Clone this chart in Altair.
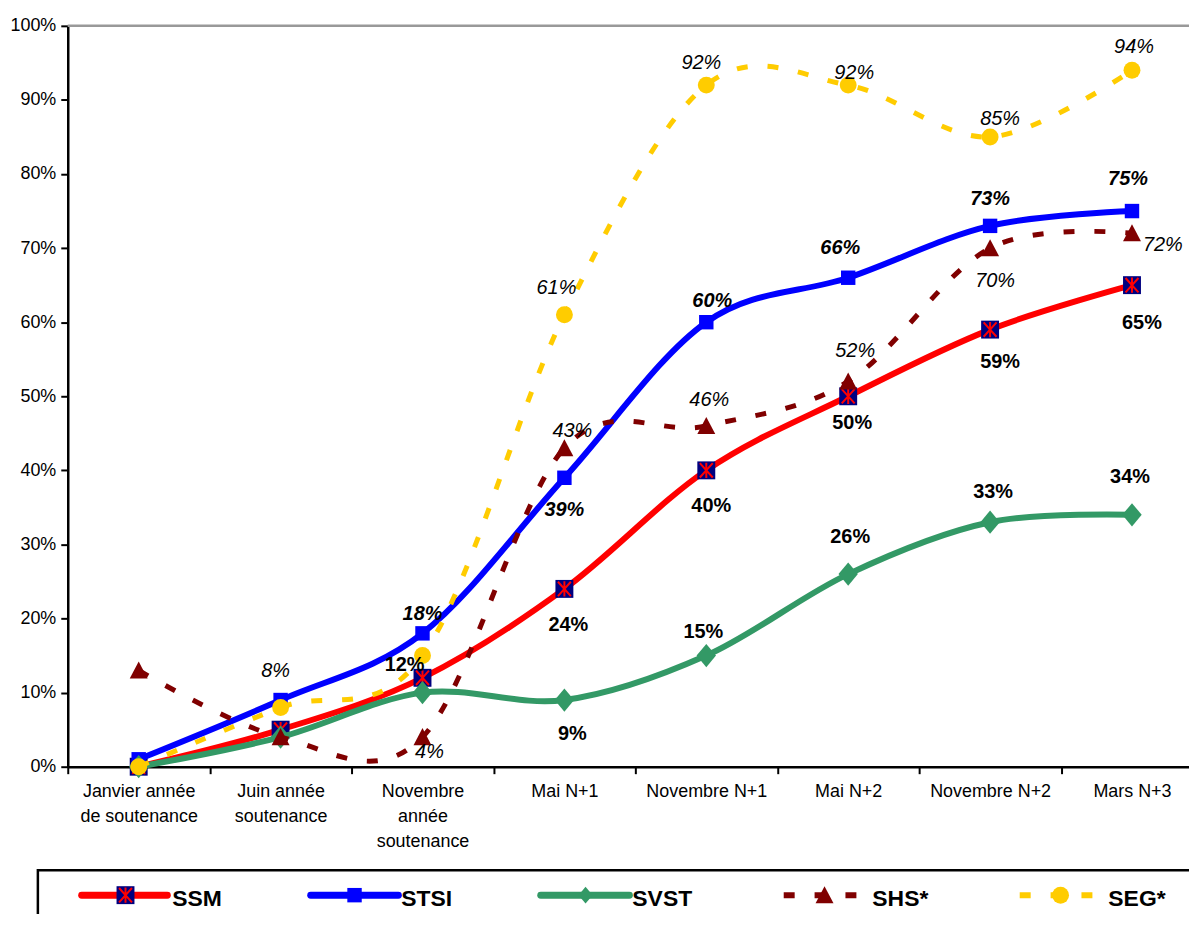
import json
import altair as alt
import pandas as pd

# ---------------- data ----------------
categories = ["Janvier année|de soutenance", "Juin année|soutenance",
              "Novembre|année|soutenance", "Mai N+1", "Novembre N+1",
              "Mai N+2", "Novembre N+2", "Mars N+3"]
series_names = ["SSM", "STSI", "SVST", "SHS*", "SEG*"]
ssm = [0, 5, 12, 24, 40, 50, 59, 65]
stsi = [1, 9, 18, 39, 60, 66, 73, 75]
svst = [0, 4, 10, 9, 15, 26, 33, 34]
shs = [13, 4, 4, 43, 46, 52, 70, 72]
seg = [0, 8, 15, 61, 92, 92, 85, 94]
y_ticks = [0, 10, 20, 30, 40, 50, 60, 70, 80, 90, 100]

values = {"SSM": ssm, "STSI": stsi, "SVST": svst, "SHS*": shs, "SEG*": seg}

# ---------------- layout / style ----------------
W, H = 1126, 744
STEP = 142.5
XMAX = W / STEP - 0.5
FONT = "Liberation Sans"

styles = {
    "SSM": dict(color="#FF0000", width=6, dash=None),
    "STSI": dict(color="#0000FF", width=6, dash=None),
    "SVST": dict(color="#339966", width=6, dash=None),
    "SHS*": dict(color="#800000", width=5, dash=[11, 20]),
    "SEG*": dict(color="#FFCC00", width=5, dash=[11, 20]),
}
ASTER = "M-0.72,-0.8L0.72,0.8M0.72,-0.8L-0.72,0.8M0,-0.85L0,0.85"
DIAMOND = "M0,-1.2L1,0L0,1.2L-1,0Z"
TRIANGLE = "M0,-1L1,0.9L-1,0.9Z"
markers = {
    "SSM": [dict(shape="square", filled=True, color="#000080", size=324),
            dict(shape=ASTER, filled=False, color="#FF0000", size=324, strokeWidth=2)],
    "STSI": [dict(shape="square", filled=True, color="#0000FF", size=210)],
    "SVST": [dict(shape=DIAMOND, filled=True, color="#339966", size=380)],
    "SHS*": [dict(shape=TRIANGLE, filled=True, color="#800000", size=324)],
    "SEG*": [dict(shape="circle", filled=True, color="#FFCC00", size=289)],
}
label_font = {
    "SSM": dict(fontWeight="bold"),
    "STSI": dict(fontWeight="bold", fontStyle="italic"),
    "SVST": dict(fontWeight="bold"),
    "SHS*": dict(fontStyle="italic"),
    "SEG*": dict(fontStyle="italic"),
}
# (category index) -> (dx, dy) pixel offsets of the value labels
label_offsets = {
    "SSM": {2: (-18, -13), 3: (4, 36), 4: (5, 36), 5: (4, 27), 6: (10, 33), 7: (10, 38)},
    "STSI": {2: (0, -19), 3: (0, 32), 4: (6, -21), 5: (-8, -30), 6: (0, -27), 7: (-4, -32)},
    "SVST": {3: (8, 34), 4: (-3, -24), 5: (2, -37), 6: (3, -30), 7: (-2, -38)},
    "SHS*": {2: (7, 15), 3: (8, -17), 4: (3, -26), 5: (7, -31), 6: (5, 33), 7: (31, 12)},
    "SEG*": {1: (-5, -37), 3: (-8, -27), 4: (-5, -22), 5: (6, -12), 6: (10, -18), 7: (2, -23)},
}
# legend layout (plot-area pixels): line x1, line x2, marker x, text x
legend_pos = {
    "SSM": (14, 100, 58, 105),
    "STSI": (244, 332, 288, 335),
    "SVST": (475, 564, 520, 567),
    "SHS*": (719, 792, 760, 808),
    "SEG*": (956, 1029, 997, 1045),
}
LEG_Y = 873
LEG_TEXT_Y = 884

# ---------------- build ----------------
rows = []
for s in series_names:
    for i, v in enumerate(values[s]):
        rows.append({"series": s, "idx": i, "value": v, "label": f"{v}%"})
df = pd.DataFrame(rows)
one = pd.DataFrame({"a": [0]})

label_js = json.dumps(categories, ensure_ascii=False)
X = alt.X("idx:Q",
          scale=alt.Scale(domain=[-0.5, XMAX], nice=False, zero=False),
          axis=alt.Axis(values=list(range(len(categories))), title=None,
                        tickOffset=-STEP / 2, labelOffset=STEP / 2,
                        labelExpr=f"split({label_js}[datum.value], '|')",
                        labelFontSize=18, labelLineHeight=25, labelPadding=9,
                        tickSize=7, tickWidth=2, domainWidth=2.5,
                        labelBaseline="top"))
Y = alt.Y("value:Q",
          scale=alt.Scale(domain=[0, 100], nice=False),
          axis=alt.Axis(values=y_ticks, title=None,
                        labelExpr="datum.value + '%'",
                        labelFontSize=18, labelPadding=5,
                        tickSize=7, tickWidth=2, domainWidth=2.5))

layers = []
# top border line at 100%
layers.append(alt.Chart(one).mark_rule(color="#999999", strokeWidth=2.5)
              .encode(y=alt.datum(100)))

for s in series_names:
    st = styles[s]
    d = df[df.series == s]
    kw = dict(interpolate="cardinal", tension=0, color=st["color"],
              strokeWidth=st["width"])
    if st["dash"]:
        kw["strokeDash"] = st["dash"]
    else:
        kw["strokeCap"] = "round"
        kw["strokeJoin"] = "round"
    layers.append(alt.Chart(d).mark_line(**kw).encode(x=X, y=Y))
    for m in markers[s]:
        mk = dict(shape=m["shape"], size=m["size"], opacity=1)
        if m["filled"]:
            mk.update(filled=True, fill=m["color"], strokeWidth=0)
        else:
            mk.update(filled=False, stroke=m["color"], strokeWidth=m.get("strokeWidth", 2))
        layers.append(alt.Chart(d).mark_point(**mk).encode(x=X, y=Y))

for s in series_names:
    d = df[df.series == s]
    for i, (dx, dy) in label_offsets[s].items():
        layers.append(
            alt.Chart(d).transform_filter(alt.datum.idx == i)
            .mark_text(font=FONT, fontSize=20, color="black", dx=dx, dy=dy,
                       align="center", baseline="middle", **label_font[s])
            .encode(x=X, y=Y, text="label:N"))

# ---------------- legend ----------------
layers.append(alt.Chart(one).mark_rect(fill="white", stroke="black", strokeWidth=2.5)
              .encode(x=alt.value(-30), x2=alt.value(W + 80),
                      y=alt.value(848), y2=alt.value(940)))
for s in series_names:
    st = styles[s]
    x1, x2, xm, xt = legend_pos[s]
    rk = dict(color=st["color"], strokeWidth=st["width"] + 1)
    if st["dash"]:
        rk["strokeDash"] = st["dash"]
        rk["strokeCap"] = "butt"
    else:
        rk["strokeCap"] = "round"
    layers.append(alt.Chart(one).mark_rule(**rk)
                  .encode(x=alt.value(x1), x2=alt.value(x2), y=alt.value(LEG_Y)))
    for m in markers[s]:
        size = m["size"] if s != "SVST" else 200
        mk = dict(shape=m["shape"], size=size, opacity=1)
        if m["filled"]:
            mk.update(filled=True, fill=m["color"], strokeWidth=0)
        else:
            mk.update(filled=False, stroke=m["color"], strokeWidth=m.get("strokeWidth", 2))
        layers.append(alt.Chart(one).mark_point(**mk)
                      .encode(x=alt.value(xm), y=alt.value(LEG_Y)))
    layers.append(alt.Chart(one).mark_text(font=FONT, fontSize=23, fontWeight="bold",
                                           color="black", align="left",
                                           baseline="alphabetic")
                  .encode(x=alt.value(xt), y=alt.value(LEG_TEXT_Y), text=alt.value(s)))

chart = (alt.layer(*layers)
         .properties(width=W, height=H, autosize=alt.AutoSizeParams(type="none"),
                     padding={"left": 60, "top": 16, "right": 0, "bottom": 146},
                     background="white")
         .configure_view(stroke=None)
         .configure_axis(labelFont=FONT, labelColor="black", domainColor="black",
                         tickColor="black", grid=False))

chart.save("out.html", embed_options={"renderer": "svg", "actions": False})
